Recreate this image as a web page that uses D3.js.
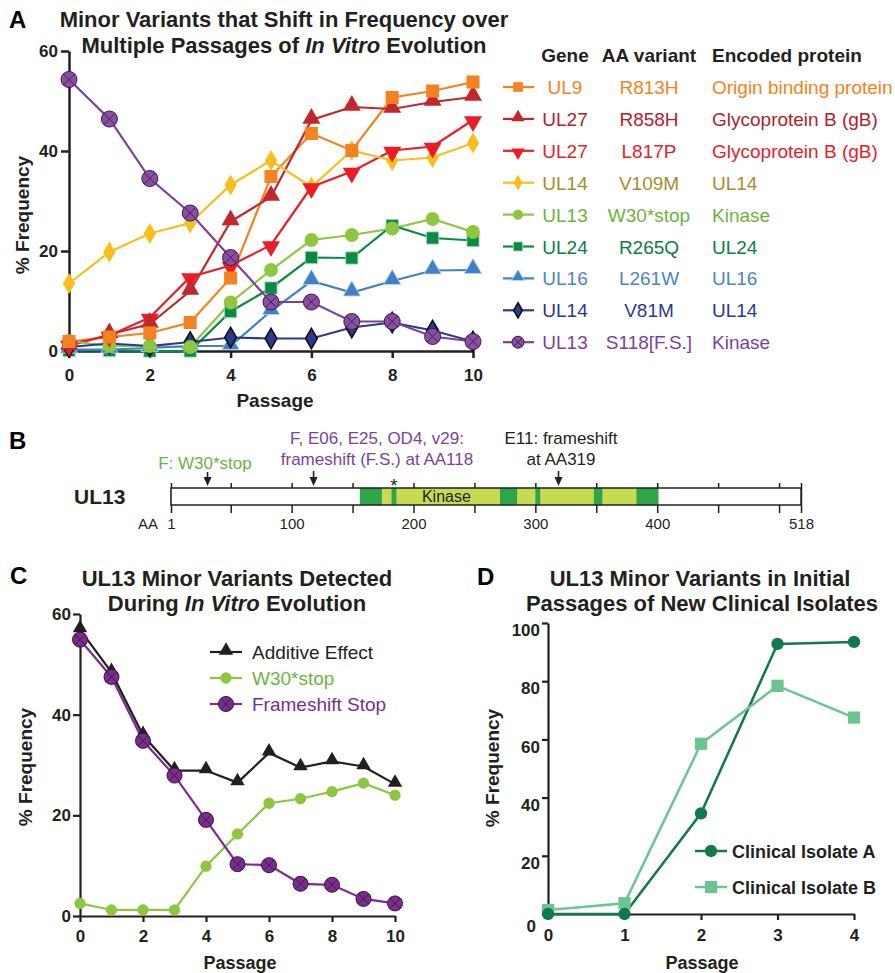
<!DOCTYPE html>
<html>
<head>
<meta charset="utf-8">
<script src="https://cdn.jsdelivr.net/npm/d3@7"></script>
<style>
  body { margin: 0; background: #fff; }
  svg { font-family: "Liberation Sans", Arial, sans-serif; }
  .ax path, .ax line { stroke: #231F20; }
  .ax text { font-weight: bold; fill: #231F20; }
</style>
</head>
<body>
<div id="fig"></div>
<script>
// ---------- data ----------
const passages = [0, 1, 2, 3, 4, 5, 6, 7, 8, 9, 10];

// panel A series
const ul9_R813H  = [1.9, 2.8, 3.6, 5.7, 14.6, 34.9, 43.5, 40.1, 50.7, 52.0, 53.8];
const ul27_R858H = [1.0, 3.3, 5.4, 12.0, 25.9, 30.8, 46.2, 48.8, 48.4, 49.8, 50.8];
const ul27_L817P = [1.3, 3.1, 6.7, 14.8, 17.1, 21.2, 32.8, 35.9, 40.1, 40.9, 46.2];
const ul14_V109M = [13.5, 19.8, 23.5, 25.6, 33.2, 38.1, 32.8, 40.1, 38.1, 38.7, 41.6];
const ul13_W30   = [2.0, 1.0, 1.0, 0.8, 9.7, 16.2, 22.2, 23.2, 24.5, 26.4, 23.8];
const ul24_R265Q = [0.1, 0.1, 0.0, 0.0, 7.9, 12.6, 18.7, 18.6, 25.1, 22.6, 22.1];
const ul16_L261W = [0.3, 0.3, 0.6, 1.0, 1.0, 8.0, 14.0, 11.7, 14.0, 16.1, 16.2];
const ul14_V81M  = [0.8, 1.5, 1.0, 1.8, 2.7, 2.5, 2.5, 4.7, 5.7, 4.1, 1.9];
const ul13_S118  = [54.3, 46.4, 34.5, 27.6, 18.7, 9.8, 9.8, 5.9, 5.9, 2.9, 1.9];

const genes    = ["UL9", "UL27", "UL27", "UL14", "UL13", "UL24", "UL16", "UL14", "UL13"];
const variants = ["R813H", "R858H", "L817P", "V109M", "W30*stop", "R265Q", "L261W", "V81M", "S118[F.S.]"];
const proteins = ["Origin binding protein", "Glycoprotein B (gB)", "Glycoprotein B (gB)", "UL14", "Kinase", "UL24", "UL16", "UL14", "Kinase"];

// panel B
const aaTicks = [1, 50, 100, 150, 200, 250, 300, 350, 400, 450, 500, 518];
const aaLabels = [1, 100, 200, 300, 400, 518];
const kinaseDomain = [156, 401];
const kinaseMotifs = [[156, 174], [182, 186], [271, 285], [300, 304], [348, 355], [383, 401]];

// panel C
const additiveEffect = [56.9, 48.4, 35.9, 28.9, 28.9, 26.5, 32.4, 29.5, 30.7, 29.7, 26.2];
const w30stop        = [2.5, 1.2, 1.2, 1.2, 9.9, 16.3, 22.4, 23.3, 24.7, 26.4, 24.0];
const frameshiftStop = [54.9, 47.5, 34.8, 27.9, 19.1, 10.3, 10.1, 6.4, 6.2, 3.4, 2.5];

// panel D
const passagesD = [0, 1, 2, 3, 4];
const isolateA = [0.0, 0.0, 34.6, 92.8, 93.5];
const isolateB = [1.4, 3.7, 58.5, 78.4, 67.5];

// ---------- svg ----------
const svg = d3.select("#fig").append("svg")
    .attr("width", 895)
    .attr("height", 973);

const ink = "#231F20";

function markerPath(kind, size) {
    const t = {
        square: d3.symbolSquare, triangle: d3.symbolTriangle, down: d3.symbolTriangle,
        diamond: d3.symbolDiamond, circle: d3.symbolCircle
    }[kind];
    return d3.symbol().type(t).size(size)();
}

function drawMarker(g, kind, x, y, s) {
    if (kind === "xcircle") {
        const r = s.r;
        g.append("circle").attr("cx", x).attr("cy", y).attr("r", r)
            .attr("fill", s.fill).attr("stroke", s.stroke).attr("stroke-width", 1);
        const k = r * 0.68;
        g.append("path")
            .attr("d", `M${x - k},${y - k}L${x + k},${y + k}M${x - k},${y + k}L${x + k},${y - k}`)
            .attr("stroke", s.stroke).attr("stroke-width", 0.9);
        return;
    }
    let tr = `translate(${x},${y})`;
    if (kind === "down") tr += " rotate(180)";
    if (kind === "triangle" || kind === "down") tr += " translate(0,-1.5)";
    g.append("path").attr("d", markerPath(kind, s.size)).attr("transform", tr)
        .attr("fill", s.fill)
        .attr("stroke", s.stroke || "none")
        .attr("stroke-width", s.sw || 1);
}

// ================= PANEL A =================
const xA = d3.scaleLinear().domain([0, 10]).range([69, 473]);
const yA = d3.scaleLinear().domain([0, 60]).range([351, 51]);

svg.append("text").attr("x", 9).attr("y", 28).attr("font-size", 24).attr("font-weight", "bold").text("A");
const tA = svg.append("text").attr("text-anchor", "middle").attr("font-size", 22).attr("font-weight", "bold").attr("fill", ink);
tA.append("tspan").attr("x", 284).attr("y", 27).text("Minor Variants that Shift in Frequency over");
const tA2 = tA.append("tspan").attr("x", 284).attr("y", 53);
tA2.append("tspan").text("Multiple Passages of ");
tA2.append("tspan").attr("font-style", "italic").text("In Vitro");
tA2.append("tspan").text(" Evolution");

svg.append("g").attr("class", "ax").attr("transform", "translate(69,0)")
    .call(d3.axisLeft(yA).tickValues([0, 20, 40, 60]).tickSize(8).tickSizeOuter(0).tickPadding(3))
    .call(g => g.selectAll("path,line").attr("stroke-width", 2.5))
    .call(g => g.selectAll("text").attr("font-size", 17));
svg.append("g").attr("class", "ax").attr("transform", "translate(0,351)")
    .call(d3.axisBottom(xA).tickValues([0, 2, 4, 6, 8, 10]).tickSize(7).tickSizeOuter(0).tickPadding(11))
    .call(g => g.selectAll("path,line").attr("stroke-width", 2.5))
    .call(g => g.selectAll("text").attr("font-size", 17));

svg.append("text").attr("transform", "translate(29,215) rotate(-90)").attr("text-anchor", "middle")
    .attr("font-size", 19).attr("font-weight", "bold").attr("fill", ink).text("% Frequency");
svg.append("text").attr("x", 275).attr("y", 407).attr("text-anchor", "middle")
    .attr("font-size", 19).attr("font-weight", "bold").attr("fill", ink).text("Passage");

const seriesA = [
    { vals: ul9_R813H,  line: "#F58220", text: "#F58220", kind: "square",   st: { size: 170, fill: "#F58220" } },
    { vals: ul27_R858H, line: "#C1272D", text: "#B4202A", kind: "triangle", st: { size: 140, fill: "#C1272D" } },
    { vals: ul27_L817P, line: "#ED1C24", text: "#E8202A", kind: "down",     st: { size: 140, fill: "#ED1C24" } },
    { vals: ul14_V109M, line: "#F7BE1E", text: "#A88C2D", kind: "diamond",  st: { size: 130, fill: "#F7BE1E" } },
    { vals: ul13_W30,   line: "#8DC63F", text: "#6DB33F", kind: "circle",   st: { size: 150, fill: "#8DC63F" } },
    { vals: ul24_R265Q, line: "#0A8A44", text: "#0A8040", kind: "square",   st: { size: 150, fill: "#0A8A44", stroke: "#A9D9B5", sw: 0.8 } },
    { vals: ul16_L261W, line: "#3F80C7", text: "#4A86C8", kind: "triangle", st: { size: 130, fill: "#3F80C7", stroke: "#B8D8EF", sw: 0.8 } },
    { vals: ul14_V81M,  line: "#2B3990", text: "#2B3990", kind: "diamond",  st: { size: 120, fill: "#2B3990", stroke: "#111", sw: 1.6 } },
    { vals: ul13_S118,  line: "#7E3F98", text: "#7E3F98", kind: "xcircle",  st: { r: 8, fill: "#8A4FA2", stroke: "#3B1A4A" } }
];

const lineA = d3.line().x((d, i) => xA(passages[i])).y(d => yA(d));
const gA = svg.append("g");
seriesA.forEach(s => {
    gA.append("path").attr("d", lineA(s.vals)).attr("fill", "none")
        .attr("stroke", s.line).attr("stroke-width", 2.2);
});
// draw markers, bottom series first
const orderA = [5, 6, 7, 4, 3, 2, 1, 0, 8];
orderA.forEach(k => {
    const s = seriesA[k];
    s.vals.forEach((v, i) => drawMarker(gA, s.kind, xA(passages[i]), yA(v), s.st));
});

// legend A
const legA = svg.append("g");
legA.append("text").attr("x", 565).attr("y", 62).attr("text-anchor", "middle").attr("font-size", 19).attr("font-weight", "bold").attr("fill", ink).text("Gene");
legA.append("text").attr("x", 649).attr("y", 62).attr("text-anchor", "middle").attr("font-size", 19).attr("font-weight", "bold").attr("fill", ink).text("AA variant");
legA.append("text").attr("x", 712).attr("y", 62).attr("font-size", 19).attr("font-weight", "bold").attr("fill", ink).text("Encoded protein");
seriesA.forEach((s, i) => {
    const cy = 87 + i * 31.9;
    legA.append("line").attr("x1", 503).attr("x2", 534).attr("y1", cy).attr("y2", cy)
        .attr("stroke", s.line).attr("stroke-width", 2.2);
    const st = Object.assign({}, s.st);
    if (st.size) st.size = st.size * 0.55;
    if (st.r) st.r = 6;
    drawMarker(legA, s.kind, 518, cy, st);
    legA.append("text").attr("x", 565).attr("y", cy + 7).attr("text-anchor", "middle").attr("font-size", 19).attr("fill", s.text).text(genes[i]);
    legA.append("text").attr("x", 649).attr("y", cy + 7).attr("text-anchor", "middle").attr("font-size", 19).attr("fill", s.text).text(variants[i]);
    legA.append("text").attr("x", 712).attr("y", cy + 7).attr("font-size", 19).attr("fill", s.text).text(proteins[i]);
});

// ================= PANEL B =================
const xB = d3.scaleLinear().domain([1, 518]).range([171, 801]);
svg.append("text").attr("x", 9).attr("y", 449).attr("font-size", 24).attr("font-weight", "bold").text("B");
svg.append("text").attr("x", 74).attr("y", 504).attr("font-size", 21).attr("font-weight", "bold").attr("fill", ink).text("UL13");

svg.append("g").attr("class", "axB").attr("transform", "translate(0,483)")
    .call(d3.axisBottom(xB).tickValues(aaTicks).tickSize(30).tickSizeOuter(0).tickPadding(5)
        .tickFormat(d => aaLabels.includes(d) ? d : ""))
    .call(g => g.select(".domain").remove())
    .call(g => g.selectAll("line").attr("stroke", ink).attr("stroke-width", 1.5))
    .call(g => g.selectAll("text").attr("font-size", 15).attr("fill", ink).attr("font-family", "Liberation Sans, Arial, sans-serif"));
svg.append("text").attr("x", 158).attr("y", 529).attr("text-anchor", "end").attr("font-size", 15).attr("fill", ink).text("AA");

svg.append("rect").attr("x", xB(1)).attr("y", 488).attr("width", xB(518) - xB(1)).attr("height", 17)
    .attr("fill", "#fff");
svg.append("rect").attr("x", xB(kinaseDomain[0])).attr("y", 488).attr("width", xB(kinaseDomain[1]) - xB(kinaseDomain[0])).attr("height", 17)
    .attr("fill", "#C8DA52");
kinaseMotifs.forEach(m => {
    svg.append("rect").attr("x", xB(m[0])).attr("y", 488).attr("width", xB(m[1]) - xB(m[0])).attr("height", 17)
        .attr("fill", "#2EA54B");
});
svg.append("rect").attr("x", xB(1)).attr("y", 488).attr("width", xB(518) - xB(1)).attr("height", 17)
    .attr("fill", "none").attr("stroke", ink).attr("stroke-width", 1.5);
svg.append("text").attr("x", xB(227)).attr("y", 502).attr("text-anchor", "middle").attr("font-size", 16).attr("fill", ink).text("Kinase");
svg.append("text").attr("x", xB(184)).attr("y", 492).attr("text-anchor", "middle").attr("font-size", 19).attr("fill", ink).text("*");

function arrowB(aa, y0) {
    const x = xB(aa);
    svg.append("line").attr("x1", x).attr("x2", x).attr("y1", y0).attr("y2", 480).attr("stroke", ink).attr("stroke-width", 1.6);
    svg.append("path").attr("d", `M${x - 4},${477}L${x + 4},${477}L${x},${486}Z`).attr("fill", ink);
}
arrowB(31, 472);
arrowB(118, 471);
arrowB(319, 471);

svg.append("text").attr("x", 205).attr("y", 469).attr("text-anchor", "middle").attr("font-size", 17).attr("fill", "#6DB33F").text("F: W30*stop");
const fsT = svg.append("text").attr("text-anchor", "middle").attr("font-size", 17).attr("fill", "#7E3F98");
fsT.append("tspan").attr("x", 377).attr("y", 444).text("F, E06, E25, OD4, v29:");
fsT.append("tspan").attr("x", 377).attr("y", 465).text("frameshift (F.S.) at AA118");
const e11 = svg.append("text").attr("text-anchor", "middle").attr("font-size", 17).attr("fill", ink);
e11.append("tspan").attr("x", 561).attr("y", 444).text("E11: frameshift");
e11.append("tspan").attr("x", 561).attr("y", 465).text("at AA319");

// ================= PANEL C =================
const xC = d3.scaleLinear().domain([0, 10]).range([80, 395]);
const yC = d3.scaleLinear().domain([0, 60]).range([916, 614]);

svg.append("text").attr("x", 10).attr("y", 584).attr("font-size", 24).attr("font-weight", "bold").text("C");
const tC = svg.append("text").attr("text-anchor", "middle").attr("font-size", 22).attr("font-weight", "bold").attr("fill", ink);
tC.append("tspan").attr("x", 237).attr("y", 586).text("UL13 Minor Variants Detected");
const tC2 = tC.append("tspan").attr("x", 237).attr("y", 611);
tC2.append("tspan").text("During ");
tC2.append("tspan").attr("font-style", "italic").text("In Vitro");
tC2.append("tspan").text(" Evolution");

svg.append("g").attr("class", "ax").attr("transform", "translate(80,0)")
    .call(d3.axisLeft(yC).tickValues([0, 20, 40, 60]).tickSize(7).tickSizeOuter(0).tickPadding(2))
    .call(g => g.selectAll("path,line").attr("stroke-width", 2.2))
    .call(g => g.selectAll("text").attr("font-size", 17));
svg.append("g").attr("class", "ax").attr("transform", "translate(0,916)")
    .call(d3.axisBottom(xC).tickValues([0, 2, 4, 6, 8, 10]).tickSize(6).tickSizeOuter(0).tickPadding(8))
    .call(g => g.selectAll("path,line").attr("stroke-width", 2.2))
    .call(g => g.selectAll("text").attr("font-size", 17));
svg.append("text").attr("transform", "translate(32,767) rotate(-90)").attr("text-anchor", "middle")
    .attr("font-size", 19).attr("font-weight", "bold").attr("fill", ink).text("% Frequency");
svg.append("text").attr("x", 240).attr("y", 969).attr("text-anchor", "middle")
    .attr("font-size", 18).attr("font-weight", "bold").attr("fill", ink).text("Passage");

const seriesC = [
    { name: "Additive Effect", vals: additiveEffect, line: "#231F20", text: "#231F20", kind: "triangle", st: { size: 90, fill: "#231F20" } },
    { name: "W30*stop", vals: w30stop, line: "#8DC63F", text: "#6DB33F", kind: "circle", st: { size: 100, fill: "#8DC63F" } },
    { name: "Frameshift Stop", vals: frameshiftStop, line: "#7B2D8E", text: "#7B2D8E", kind: "xcircle", st: { r: 7.5, fill: "#7B2D8E", stroke: "#3B1145" } }
];
const lineC = d3.line().x((d, i) => xC(passages[i])).y(d => yC(d));
const gC = svg.append("g");
seriesC.forEach(s => {
    gC.append("path").attr("d", lineC(s.vals)).attr("fill", "none").attr("stroke", s.line).attr("stroke-width", 2.2);
});
seriesC.forEach(s => {
    s.vals.forEach((v, i) => drawMarker(gC, s.kind, xC(passages[i]), yC(v), s.st));
});
seriesC.forEach((s, i) => {
    const cy = 652 + i * 26;
    gC.append("line").attr("x1", 210).attr("x2", 242).attr("y1", cy).attr("y2", cy).attr("stroke", s.line).attr("stroke-width", 2.2);
    drawMarker(gC, s.kind, 226, cy, s.st);
    gC.append("text").attr("x", 252).attr("y", cy + 7).attr("font-size", 19).attr("fill", s.text).text(s.name);
});

// ================= PANEL D =================
const xD = d3.scaleLinear().domain([0, 4]).range([548, 854]);
const yD = d3.scaleLinear().domain([0, 100]).range([914, 623]);

svg.append("text").attr("x", 477).attr("y", 585).attr("font-size", 24).attr("font-weight", "bold").text("D");
const tD = svg.append("text").attr("text-anchor", "middle").attr("font-size", 22).attr("font-weight", "bold").attr("fill", ink);
tD.append("tspan").attr("x", 700).attr("y", 586).text("UL13 Minor Variants in Initial");
tD.append("tspan").attr("x", 702).attr("y", 611).text("Passages of New Clinical Isolates");

svg.append("g").attr("class", "ax").attr("transform", "translate(548,0)")
    .call(d3.axisLeft(yD).tickValues([0, 20, 40, 60, 80, 100]).tickSize(6).tickSizeOuter(0).tickPadding(2))
    .call(g => g.selectAll("path,line").attr("stroke-width", 2.2))
    .call(g => g.selectAll("text").attr("font-size", 17)
        .attr("dy", d => d === 0 ? "1.0em" : "0.75em")
        .attr("x", d => d === 0 ? -12 : -8));
svg.append("g").attr("class", "ax").attr("transform", "translate(0,914)")
    .call(d3.axisBottom(xD).tickValues(passagesD).tickFormat(d3.format("d")).tickSize(6).tickSizeOuter(0).tickPadding(9))
    .call(g => g.selectAll("path,line").attr("stroke-width", 2.2))
    .call(g => g.selectAll("text").attr("font-size", 17));
svg.append("text").attr("transform", "translate(499,768) rotate(-90)").attr("text-anchor", "middle")
    .attr("font-size", 19).attr("font-weight", "bold").attr("fill", ink).text("% Frequency");
svg.append("text").attr("x", 702).attr("y", 969).attr("text-anchor", "middle")
    .attr("font-size", 18).attr("font-weight", "bold").attr("fill", ink).text("Passage");

const seriesD = [
    { name: "Clinical Isolate A", vals: isolateA, line: "#0F7A4B", kind: "circle", st: { size: 120, fill: "#0F7A4B" } },
    { name: "Clinical Isolate B", vals: isolateB, line: "#6CC590", kind: "square", st: { size: 150, fill: "#6CC590" } }
];
const lineD = d3.line().x((d, i) => xD(passagesD[i])).y(d => yD(d));
const gD = svg.append("g");
seriesD.forEach(s => {
    gD.append("path").attr("d", lineD(s.vals)).attr("fill", "none").attr("stroke", s.line).attr("stroke-width", 2.5);
});
[1, 0].forEach(k => {
    const s = seriesD[k];
    s.vals.forEach((v, i) => drawMarker(gD, s.kind, xD(passagesD[i]), yD(v), s.st));
});
seriesD.forEach((s, i) => {
    const cy = 851 + i * 36;
    gD.append("line").attr("x1", 695).attr("x2", 727).attr("y1", cy).attr("y2", cy).attr("stroke", s.line).attr("stroke-width", 2.5);
    drawMarker(gD, s.kind, 711, cy, s.st);
    gD.append("text").attr("x", 732).attr("y", cy + 7).attr("font-size", 18).attr("font-weight", "bold").attr("fill", ink).text(s.name);
});
</script>
</body>
</html>
